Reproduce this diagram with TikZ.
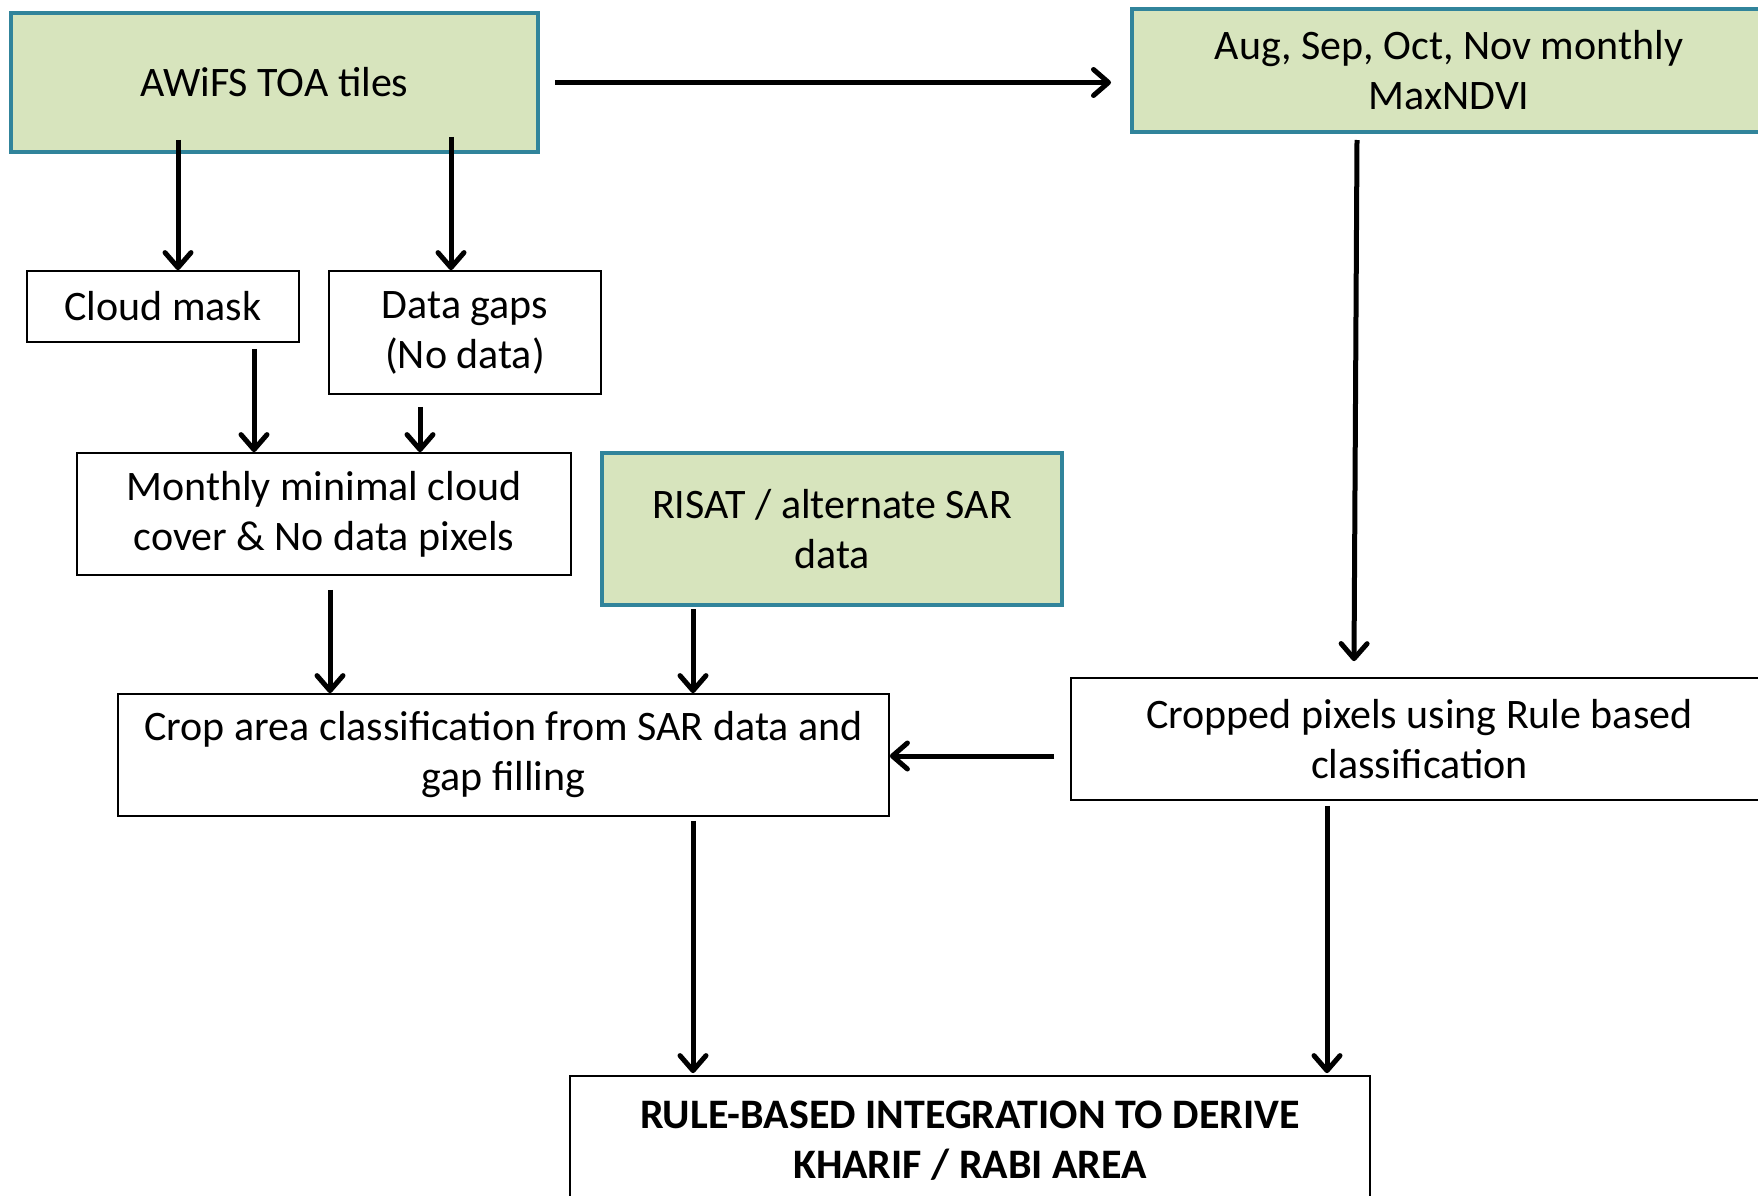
\documentclass[tikz,border=0pt]{standalone}
\usepackage{fontspec}
\setmainfont{Carlito}
\usetikzlibrary{arrows.meta,calc}
\definecolor{boxgreen}{HTML}{D7E4BD}
\definecolor{boxteal}{HTML}{31849B}
\begin{document}
\begin{tikzpicture}[x=1pt,y=-1pt,
  every node/.style={font=\fontsize{42}{50}\selectfont, align=center, inner sep=0pt},
  greenbox/.style={draw=boxteal, fill=boxgreen, line width=4pt},
  plainbox/.style={draw=black, line width=1.8pt},
  arr/.style={line width=5pt, -{Straight Barb[length=15pt,width=26pt,line width=5pt,round]}}]
\useasboundingbox (0,0) rectangle (1758,1196);
\clip (0,0) rectangle (1758,1196);
\fill[white] (0,0) rectangle (1758,1196);

\node[greenbox, minimum width=527pt, minimum height=139pt] (awifs) at (274.5,82.5) {AWiFS TOA tiles};
\node[greenbox, minimum width=634pt, minimum height=123pt] (maxndvi) at (1449,70.5) {Aug, Sep, Oct, Nov monthly\\MaxNDVI};
\node[plainbox, minimum width=272pt, minimum height=71pt] (cloud) at (163,306.5) {Cloud mask};
\node[plainbox, minimum width=272pt, minimum height=123pt] (gaps) at (465,332.5) {Data gaps\\(No data)};
\node[plainbox, minimum width=494pt, minimum height=122pt] (monthly) at (324,514) {Monthly minimal cloud\\cover \& No data pixels};
\node[greenbox, minimum width=460pt, minimum height=152pt] (risat) at (832,529) {RISAT / alternate SAR\\data};
\node[plainbox, minimum width=771pt, minimum height=122pt] (croparea) at (503.5,755) {Crop area classification from SAR data and\\gap filling};
\node[plainbox, minimum width=697pt, minimum height=122pt] (cropped) at (1419.5,739) {Cropped pixels using Rule based\\classification};
\node[plainbox, minimum width=800pt, minimum height=130pt, font=\fontsize{42}{50}\selectfont\bfseries] (final) at (970,1141) {RULE-BASED INTEGRATION TO DERIVE\\KHARIF / RABI AREA};

\draw[arr] ($(cloud.north |- awifs.south)+(15,-14)$) -- ($(cloud.north)+(15,0)$);
\draw[arr] ($(gaps.north |- awifs.south)+(-14,-17)$) -- ($(gaps.north)+(-14,0)$);
\draw[arr] ($(awifs.east)+(15,0)$) -- ($(maxndvi.west |- awifs.east)+(-19,0)$);
\draw[arr] ($(cloud.south)+(91,6)$) -- ($(monthly.north)+(-70,0)$);
\draw[arr] ($(gaps.south)+(-45,12)$) -- ($(monthly.north)+(96,0)$);
\draw[arr] ($(monthly.south)+(6,14)$) -- ($(croparea.north)+(-173.5,0)$);
\draw[arr] ($(risat.south)+(-139,2)$) -- ($(croparea.north)+(189.5,0)$);
\draw[arr] ($(maxndvi.south)+(-92,6)$) -- ($(cropped.north)+(-65.5,-16)$);
\draw[arr] ($(cropped.west)+(-16,17)$) -- ($(croparea.east)+(0,1)$);
\draw[arr] ($(croparea.south)+(189.5,4)$) -- ($(final.north)+(-277,-2)$);
\draw[arr] ($(cropped.south)+(-92.5,5)$) -- ($(final.north)+(357,-2)$);
\end{tikzpicture}
\end{document}
